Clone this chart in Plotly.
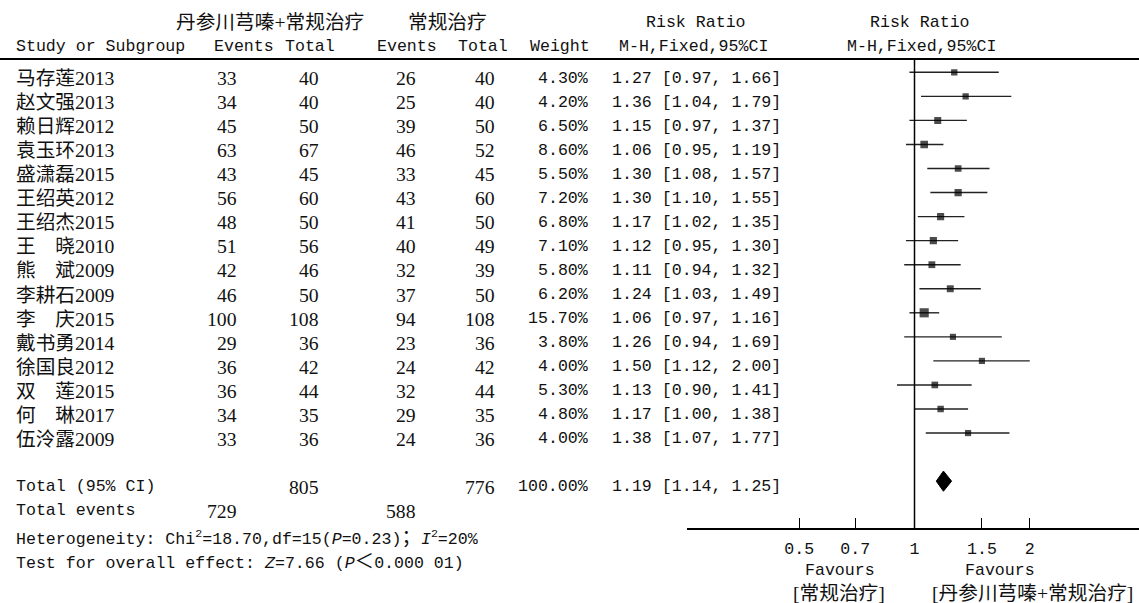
import math
import re
import plotly.graph_objects as go

# ---- data -----------------------------------------------------------------
studies = ["马存莲2013", "赵文强2013", "赖日辉2012", "袁玉环2013", "盛潇磊2015",
           "王绍英2012", "王绍杰2015", "王　晓2010", "熊　斌2009", "李耕石2009",
           "李　庆2015", "戴书勇2014", "徐国良2012", "双　莲2015", "何　琳2017",
           "伍泠露2009"]
exp_events = [33, 34, 45, 63, 43, 56, 48, 51, 42, 46, 100, 29, 36, 36, 34, 33]
exp_total = [40, 40, 50, 67, 45, 60, 50, 56, 46, 50, 108, 36, 42, 44, 35, 36]
ctl_events = [26, 25, 39, 46, 33, 43, 41, 40, 32, 37, 94, 23, 24, 32, 29, 24]
ctl_total = [40, 40, 50, 52, 45, 60, 50, 49, 39, 50, 108, 36, 42, 44, 35, 36]
weights = [4.30, 4.20, 6.50, 8.60, 5.50, 7.20, 6.80, 7.10, 5.80, 6.20, 15.70,
           3.80, 4.00, 5.30, 4.80, 4.00]
rr = [1.27, 1.36, 1.15, 1.06, 1.30, 1.30, 1.17, 1.12, 1.11, 1.24, 1.06, 1.26,
      1.50, 1.13, 1.17, 1.38]
ci_low = [0.97, 1.04, 0.97, 0.95, 1.08, 1.10, 1.02, 0.95, 0.94, 1.03, 0.97,
          0.94, 1.12, 0.90, 1.00, 1.07]
ci_high = [1.66, 1.79, 1.37, 1.19, 1.57, 1.55, 1.35, 1.30, 1.32, 1.49, 1.16,
           1.69, 2.00, 1.41, 1.38, 1.77]

pooled_rr = 1.19
pooled_low = 1.14
pooled_high = 1.25
pooled_weight = 100.00
sum_exp_total = 805
sum_ctl_total = 776
sum_exp_events = 729
sum_ctl_events = 588

axis_ticks = [0.5, 0.7, 1, 1.5, 2]
axis_ticktext = ["0.5", "0.7", "1", "1.5", "2"]

exp_label = "丹参川芎嗪+常规治疗"
ctl_label = "常规治疗"

# ---- geometry ---------------------------------------------------------------
W, H = 1139, 603
MONO = "Liberation Mono"
SERIF = "Liberation Serif, Noto Sans CJK SC"
FS = 16.6          # monospaced text
NUM_FS = 19.7      # names / counts (half-width digits)
CJK_FS = 19.5
ROW0_PX = 72.3     # first study row centre
ROW_PX = 24.05     # row pitch
TOP_LINE_PX = 59
AXIS_PX = 528
ONE_PX = 914.5     # RR = 1
PX_PER_LN = 166.3
AX_LEFT_PX = 686.7

TEXT_OFF = 0.24    # text rows sit slightly below the marker rows

y_top = (TOP_LINE_PX - ROW0_PX) / ROW_PX
y_bot = (AXIS_PX - ROW0_PX) / ROW_PX
y2_top = (0 - ROW0_PX) / ROW_PX
y2_bot = (H - ROW0_PX) / ROW_PX
x_lo = (AX_LEFT_PX - ONE_PX) / PX_PER_LN / math.log(10)
x_hi = (W - ONE_PX) / PX_PER_LN / math.log(10)

CJK_RE = re.compile(r"([\u3000-\u303f\u4e00-\u9fff\uff00-\uffef]+)")


def rich(s):
    """Full-width runs get the CJK face at full-cell size."""
    return CJK_RE.sub(
        lambda m: '<span style="font-family:Noto Sans CJK SC;font-size:%.1fpx">%s</span>'
        % (CJK_FS, m.group(1)), s)


annotations = []


def text(xpx, y, s, anchor="left", yref="y2", family=MONO, size=FS):
    annotations.append(dict(
        x=xpx / W, xref="paper", y=y, yref=yref,
        text=rich(s) if family == MONO else s,
        showarrow=False, xanchor=anchor, yanchor="middle",
        font=dict(family=family, size=size, color="#111"),
        borderpad=0))


def num(xpx, y, s, anchor="right"):
    text(xpx, y, s, anchor, family=SERIF, size=NUM_FS)


def ppx(py):
    return 1 - py / H


# ---- header -----------------------------------------------------------------
text(175, ppx(22), exp_label, yref="paper", family=SERIF, size=NUM_FS)
text(407, ppx(22), ctl_label, yref="paper", family=SERIF, size=NUM_FS)
text(696, ppx(22), "Risk Ratio", "center", yref="paper")
text(920, ppx(22), "Risk Ratio", "center", yref="paper")
text(15, ppx(47), "Study or Subgroup", yref="paper")
text(213, ppx(47), "Events", yref="paper")
text(284, ppx(47), "Total", yref="paper")
text(376, ppx(47), "Events", yref="paper")
text(457, ppx(47), "Total", yref="paper")
text(529, ppx(47), "Weight", yref="paper")
text(618, ppx(47), "M-H,Fixed,95%CI", yref="paper")
text(846, ppx(47), "M-H,Fixed,95%CI", yref="paper")

# ---- study rows -------------------------------------------------------------
for i, name in enumerate(studies):
    ty = i + TEXT_OFF
    num(15, ty, name, "left")
    num(238, ty, str(exp_events[i]))
    num(320, ty, str(exp_total[i]))
    num(417, ty, str(ctl_events[i]))
    num(496, ty, str(ctl_total[i]))
    text(589, ty, "%.2f%%" % weights[i], "right")
    text(611, ty, "%.2f [%.2f, %.2f]" % (rr[i], ci_low[i], ci_high[i]))

# ---- totals -----------------------------------------------------------------
tot_row = len(studies) + 1
text(15, tot_row + TEXT_OFF, "Total (95% CI)")
num(320, tot_row + TEXT_OFF, str(sum_exp_total))
num(496, tot_row + TEXT_OFF, str(sum_ctl_total))
text(589, tot_row + TEXT_OFF, "%.2f%%" % pooled_weight, "right")
text(611, tot_row + TEXT_OFF, "%.2f [%.2f, %.2f]" % (pooled_rr, pooled_low, pooled_high))
text(15, tot_row + 1 + TEXT_OFF, "Total events")
num(238, tot_row + 1 + TEXT_OFF, str(sum_exp_events))
num(417, tot_row + 1 + TEXT_OFF, str(sum_ctl_events))
text(15, tot_row + 2 + TEXT_OFF,
     "Heterogeneity: Chi<sup>2</sup>=18.70,df=15(<i>P</i>=0.23)；<i>I</i><sup>2</sup>=20%")
text(15, tot_row + 3 + TEXT_OFF,
     "Test for overall effect: <i>Z</i>=7.66 (<i>P</i>＜0.000 01)")

# ---- favours labels under the axis ------------------------------------------
text(840, ppx(570), "Favours", "center", yref="paper")
text(839, ppx(593), "[" + ctl_label + "]", "center", yref="paper", family=SERIF, size=NUM_FS)
text(1000, ppx(570), "Favours", "center", yref="paper")
text(1032, ppx(593), "[" + exp_label + "]", "center", yref="paper", family=SERIF, size=NUM_FS)

# ---- forest plot ------------------------------------------------------------
rows = list(range(len(studies)))
sizes = [1.5 * math.sqrt(w) + 3.2 for w in weights]

fig = go.Figure()
fig.add_trace(go.Scatter(
    x=rr, y=rows, mode="markers",
    marker=dict(symbol="square", size=sizes, color="black", line=dict(width=0)),
    error_x=dict(type="data", symmetric=False,
                 array=[h - r for h, r in zip(ci_high, rr)],
                 arrayminus=[r - l for r, l in zip(rr, ci_low)],
                 width=0, thickness=1.4, color="#222"),
    hoverinfo="skip", showlegend=False))

half_h = 0.42
fig.add_trace(go.Scatter(
    x=[pooled_low, pooled_rr, pooled_high, pooled_rr, pooled_low],
    y=[tot_row, tot_row - half_h, tot_row, tot_row + half_h, tot_row],
    mode="lines", fill="toself", fillcolor="black",
    line=dict(color="black", width=1), hoverinfo="skip", showlegend=False))

# empty trace that registers the full-height row scale for the table text
fig.add_trace(go.Scatter(x=[], y=[], xaxis="x", yaxis="y2",
                         hoverinfo="skip", showlegend=False))

shapes = [
    dict(type="line", xref="paper", yref="paper", x0=0, x1=1,
         y0=ppx(TOP_LINE_PX), y1=ppx(TOP_LINE_PX), line=dict(color="black", width=2)),
    dict(type="line", xref="x", yref="y domain", x0=1, x1=1, y0=0, y1=1,
         line=dict(color="black", width=1.5)),
]

fig.update_layout(
    width=W, height=H, margin=dict(l=0, r=0, t=0, b=0),
    paper_bgcolor="white", plot_bgcolor="rgba(0,0,0,0)",
    annotations=annotations, shapes=shapes, showlegend=False,
    xaxis=dict(type="log", domain=[AX_LEFT_PX / W, 1], range=[x_lo, x_hi],
               anchor="y",
               showline=True, linecolor="black", linewidth=1.5,
               ticks="inside", ticklen=10, tickwidth=1.3, tickcolor="black",
               tickvals=axis_ticks, ticktext=axis_ticktext,
               tickfont=dict(family=MONO, size=FS, color="#111"),
               ticklabelstandoff=4,
               showgrid=False, zeroline=False, fixedrange=True),
    yaxis=dict(domain=[ppx(AXIS_PX), ppx(TOP_LINE_PX)], range=[y_bot, y_top],
               anchor="x",
               visible=False, showgrid=False, zeroline=False, fixedrange=True),
    yaxis2=dict(domain=[0, 1], range=[y2_bot, y2_top], anchor="x",
                visible=False, showgrid=False, zeroline=False, fixedrange=True),
)

fig.write_html("out.html")
